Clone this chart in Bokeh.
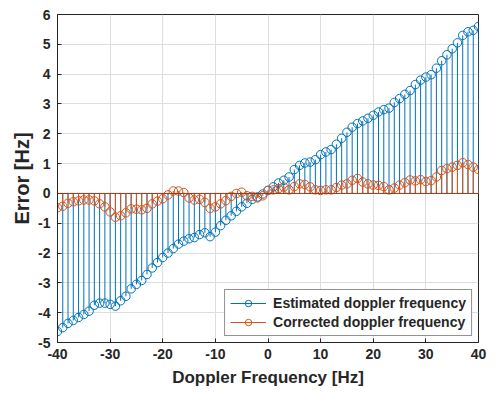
from bokeh.plotting import figure
from bokeh.models import Range1d, FixedTicker, Legend, LegendItem, ColumnDataSource, Span
from bokeh.embed import file_html
from bokeh.resources import INLINE

doppler = list(range(-40, 41))
estimated = [-4.63, -4.5, -4.36, -4.26, -4.16, -4.06, -3.95, -3.75, -3.68, -3.68,
             -3.72, -3.78, -3.6, -3.45, -3.2, -3.05, -2.92, -2.72, -2.5, -2.32,
             -2.15, -2.0, -1.85, -1.7, -1.6, -1.52, -1.48, -1.38, -1.32, -1.45,
             -1.3, -1.08, -0.9, -0.75, -0.6, -0.45, -0.33, -0.2, -0.12, -0.02,
             0.1, 0.22, 0.35, 0.44, 0.55, 0.8, 0.94, 1.02, 1.05, 1.13,
             1.3, 1.39, 1.47, 1.65, 1.85, 2.05, 2.22, 2.34, 2.43, 2.52,
             2.62, 2.73, 2.81, 2.86, 3.05, 3.18, 3.32, 3.45, 3.65, 3.8,
             3.9, 3.98, 4.2, 4.45, 4.65, 4.85, 5.05, 5.3, 5.42, 5.47, 5.6]
corrected = [-0.48, -0.43, -0.33, -0.28, -0.25, -0.22, -0.22, -0.25, -0.35, -0.45,
             -0.62, -0.8, -0.75, -0.65, -0.52, -0.53, -0.55, -0.5, -0.35, -0.26,
             -0.18, -0.05, 0.08, 0.08, 0.03, -0.15, -0.22, -0.2, -0.3, -0.5,
             -0.45, -0.35, -0.24, -0.1, 0.0, 0.04, -0.08, -0.1, -0.15, -0.08,
             0.1, 0.12, 0.16, 0.21, 0.12, 0.23, 0.32, 0.3, 0.22, 0.12,
             0.1, 0.12, 0.12, 0.2, 0.28, 0.32, 0.44, 0.5, 0.38, 0.32,
             0.28, 0.27, 0.23, 0.12, 0.18, 0.28, 0.36, 0.45, 0.42, 0.46,
             0.4, 0.43, 0.55, 0.77, 0.83, 0.88, 0.94, 1.03, 0.97, 0.88, 0.8]
x_ticks = [-40, -30, -20, -10, 0, 10, 20, 30, 40]
y_ticks = [-5, -4, -3, -2, -1, 0, 1, 2, 3, 4, 5, 6]
labels = ["Estimated doppler frequency", "Corrected doppler frequency"]

BLUE = "#0072BD"
ORANGE = "#D95319"
FONT = "Liberation Sans"
INK = "#262626"

p = figure(width=496, height=395, output_backend="svg", toolbar_location=None,
           x_range=Range1d(-40, 40), y_range=Range1d(-5, 6))
p.min_border_left = 57
p.min_border_right = 18
p.min_border_top = 14
p.min_border_bottom = 53
p.background_fill_color = "white"
p.border_fill_color = "white"
p.outline_line_color = INK
p.outline_line_width = 1

src = ColumnDataSource(dict(x=doppler, est=estimated, cor=corrected, zero=[0] * len(doppler)))

s1 = p.segment(x0="x", y0="zero", x1="x", y1="est", source=src, line_color=BLUE, line_width=1)
c1 = p.scatter(x="x", y="est", source=src, size=8.5, marker="circle", fill_color=None,
               line_color=BLUE, line_width=1)
s2 = p.segment(x0="x", y0="zero", x1="x", y1="cor", source=src, line_color=ORANGE, line_width=1)
c2 = p.scatter(x="x", y="cor", source=src, size=8.5, marker="circle", fill_color=None,
               line_color=ORANGE, line_width=1)
p.add_layout(Span(location=0, dimension="width", line_color="#8B3A14", line_width=1))

for ax in (p.xaxis[0], p.yaxis[0]):
    ax.major_tick_in = 4
    ax.major_tick_out = 0
    ax.minor_tick_in = 0
    ax.minor_tick_out = 0
    ax.axis_line_color = INK
    ax.major_tick_line_color = INK
    ax.major_label_text_font = FONT
    ax.major_label_text_font_style = "bold"
    ax.major_label_text_font_size = "14px"
    ax.major_label_text_color = INK
    ax.axis_label_text_font = FONT
    ax.axis_label_text_font_style = "bold"
    ax.axis_label_text_color = INK
p.xaxis[0].ticker = FixedTicker(ticks=x_ticks)
p.yaxis[0].ticker = FixedTicker(ticks=y_ticks)
p.xaxis[0].major_label_overrides = {t: str(t) for t in x_ticks}
p.yaxis[0].major_label_overrides = {t: str(t) for t in y_ticks}
p.xaxis[0].axis_label = "Doppler Frequency [Hz]"
p.yaxis[0].axis_label = "Error [Hz]"
p.xaxis[0].axis_label_text_font_size = "17px"
p.yaxis[0].axis_label_text_font_size = "20px"
p.xaxis[0].major_label_standoff = 6
p.yaxis[0].major_label_standoff = 7
p.xaxis[0].axis_label_standoff = 6
p.yaxis[0].axis_label_standoff = 2

p.xgrid.ticker = FixedTicker(ticks=x_ticks)
p.ygrid.ticker = FixedTicker(ticks=y_ticks)
p.grid.grid_line_color = "#dedede"
p.grid.grid_line_width = 1

legend = Legend(items=[LegendItem(label=labels[0], renderers=[s1, c1]),
                       LegendItem(label=labels[1], renderers=[s2, c2])],
                location="bottom_right")
legend.label_text_font = FONT
legend.label_text_font_style = "bold"
legend.label_text_font_size = "14px"
legend.label_text_color = INK
legend.label_height = 16
legend.border_line_color = INK
legend.border_line_width = 1
legend.glyph_width = 36
legend.glyph_height = 16
legend.spacing = 3
legend.padding = 5
legend.margin = 6
legend.label_standoff = 7
legend.background_fill_alpha = 1
p.add_layout(legend)

open("out.html", "w").write(file_html(p, INLINE))
